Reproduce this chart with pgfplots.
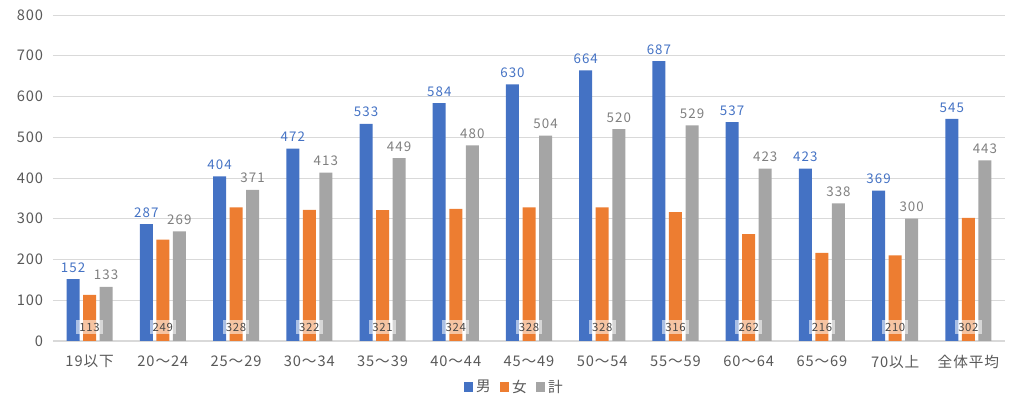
\documentclass[border=0pt]{standalone}
\usepackage{pgfplots}
\pgfplotsset{compat=1.18}
\usepackage{fontspec}
\setmainfont{Noto Sans CJK JP}
\definecolor{cblue}{HTML}{4472C4}
\definecolor{corange}{HTML}{ED7D31}
\definecolor{cgray}{HTML}{A5A5A5}
\definecolor{gridc}{HTML}{D9D9D9}
\definecolor{txt}{HTML}{595959}
\definecolor{lblgray}{HTML}{7F7F7F}
\begin{document}
\begin{tikzpicture}
\begin{axis}[
  name=ax, at={(0,0)}, anchor=south west,
  scale only axis, width=714pt, height=244.5pt,
  ymin=0, ymax=800, xmin=-0.5, xmax=12.5,
  ytick={0,100,...,800},
  xtick={0,...,12},
  xticklabels={19以下,20～24,25～29,30～34,35～39,40～44,45～49,50～54,55～59,60～64,65～69,70以上,全体平均},
  ymajorgrids, grid style={draw=gridc, line width=0.7pt},
  axis x line*=bottom, axis y line*=left,
  y axis line style={draw=none},
  x axis line style={draw=gridc, line width=0.8pt},
  tick style={draw=none},
  /pgf/number format/assume math mode=true,
  ticklabel style={font=\fontsize{11}{13}\selectfont\addfontfeature{LetterSpace=6}, text=txt},
  yticklabel style={xshift=-4pt},
  xticklabel style={yshift=-3pt},
  ybar, bar width=9.75pt,
  legend style={at={(0.485,-0.141)}, anchor=center, draw=none, legend columns=-1,
    font=\fontsize{11}{13}\selectfont, text=txt,
    /tikz/every even column/.append style={column sep=5pt}},
  legend image code/.code={\fill[#1] (0pt,-3.5pt) rectangle (7pt,3.5pt);},
]
\addplot[fill=cblue, draw=none, bar shift=-12.4pt,
  nodes near coords, nodes near coords style={text=cblue, font=\fontsize{10}{12}\selectfont\addfontfeature{LetterSpace=8}, yshift=1.5pt}]
  coordinates {(0,152) (1,287) (2,404) (3,472) (4,533) (5,584) (6,630) (7,664) (8,687) (9,537) (10,423) (11,369) (12,545)};
\addplot[fill=corange, draw=none, bar shift=0pt]
  coordinates {(0,113) (1,249) (2,328) (3,322) (4,321) (5,324) (6,328) (7,328) (8,316) (9,262) (10,216) (11,210) (12,302)};
\addplot[fill=cgray, draw=none, bar shift=12.4pt,
  nodes near coords, nodes near coords style={text=lblgray, font=\fontsize{10}{12}\selectfont\addfontfeature{LetterSpace=8}, yshift=1.5pt}]
  coordinates {(0,133) (1,269) (2,371) (3,413) (4,449) (5,480) (6,504) (7,520) (8,529) (9,423) (10,338) (11,300) (12,443)};
\addplot[draw=none, fill=none, bar shift=0pt, forget plot,
  point meta=explicit symbolic, nodes near coords,
  every node near coord/.style={anchor=center, fill=white, fill opacity=0.55, text opacity=1,
    text=txt!80!black, font=\fontsize{8.5}{9}\selectfont\addfontfeature{LetterSpace=6}, inner sep=1pt, minimum width=20pt, minimum height=11pt}]
  coordinates {(0,34)[113] (1,34)[249] (2,34)[328] (3,34)[322] (4,34)[321] (5,34)[324] (6,34)[328] (7,34)[328] (8,34)[316] (9,34)[262] (10,34)[216] (11,34)[210] (12,34)[302]};
\legend{男,女,計}
\end{axis}
\pgfresetboundingbox
\path (-39.75pt,-51pt) rectangle (728.25pt,255.75pt);
\end{tikzpicture}
\end{document}
